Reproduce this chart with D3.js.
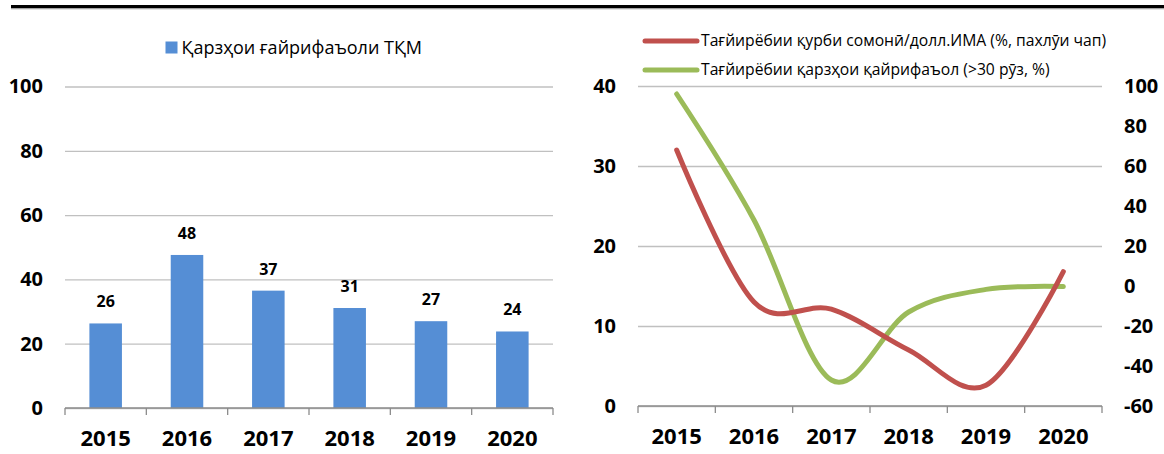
<!DOCTYPE html>
<html>
<head>
<meta charset="utf-8">
<script src="https://cdn.jsdelivr.net/npm/d3@7"></script>
<style>
  body { margin: 0; background: #fff; }
  svg { display: block; font-family: "Open Sans", "Noto Sans", sans-serif; }
  .tick text { fill: #000; }
</style>
</head>
<body>
<svg id="chart" width="1164" height="454"></svg>
<script>
// data
var years = ["2015", "2016", "2017", "2018", "2019", "2020"];
var npl = [26.3, 47.6, 36.5, 31.1, 27.0, 23.8];           // Қарзҳои ғайрифаъоли ТҚМ
var fxChange = [32.0, 13.0, 12.1, 7.0, 2.6, 16.8];       // left axis, %
var nplChange = [96, 33, -47, -13, -1.7, -0.3];           // right axis, %
var leftTicks = [0, 20, 40, 60, 80, 100];
var fxTicks = [0, 10, 20, 30, 40];
var nplTicks = [-60, -40, -20, 0, 20, 40, 60, 80, 100];
var barLegend = "Қарзҳои ғайрифаъоли ТҚМ";
var lineLegend = ["Тағйирёбии қурби сомонӣ/долл.ИМА (%, пахлӯи чап)",
                  "Тағйирёбии қарзҳои қайрифаъол (>30 рӯз, %)"];

var svg = d3.select("#chart");
var gridColor = "#c0c0c0", axisColor = "#8c8c8c";
var plain = function(d) { return String(d); };   // keep "-60" with a hyphen

// top rule
svg.append("rect").attr("x", 11).attr("y", 5).attr("width", 1153).attr("height", 3.5).attr("fill", "#000");
svg.append("rect").attr("x", 11).attr("y", 8.5).attr("width", 1153).attr("height", 1).attr("fill", "#c8c8c8");

function bottomAxis(g, x, y0) {
  g.append("line")
    .attr("x1", x.range()[0]).attr("x2", x.range()[1])
    .attr("y1", y0).attr("y2", y0)
    .attr("stroke", axisColor).attr("stroke-width", 1.3);
  var edges = years.map(function(d) { return x(d); }).concat([x.range()[1]]);
  g.selectAll(".edge").data(edges).enter().append("line")
    .attr("x1", function(d) { return d; }).attr("x2", function(d) { return d; })
    .attr("y1", y0).attr("y2", y0 + 7)
    .attr("stroke", axisColor).attr("stroke-width", 1.3);
  var ax = g.append("g").attr("transform", "translate(0," + y0 + ")")
    .call(d3.axisBottom(x).tickSize(0).tickPadding(22));
  ax.select(".domain").remove();
  ax.selectAll("text").attr("font-size", 22).attr("font-weight", 700)
    .attr("font-family", "'Open Sans', sans-serif");
}

// ---------- left chart: bars ----------
var xL = d3.scaleBand().domain(years).range([65, 553]);
var yL = d3.scaleLinear().domain([0, 100]).range([408, 86.5]);
var gL = svg.append("g");

var gridL = gL.append("g").attr("transform", "translate(65,0)")
  .call(d3.axisLeft(yL).tickValues(leftTicks).tickSize(-(553 - 65)).tickFormat(""));
gridL.select(".domain").remove();
gridL.selectAll("line").attr("stroke", gridColor).attr("stroke-width", 1.3);

var labL = gL.append("g").attr("transform", "translate(43,0)")
  .call(d3.axisLeft(yL).tickValues(leftTicks).tickSize(0).tickPadding(0).tickFormat(plain));
labL.select(".domain").remove();
labL.selectAll("text").attr("font-size", 20).attr("font-weight", 700)
  .attr("font-family", "'Open Sans', sans-serif");

var bw = xL.bandwidth() * 0.4;
gL.selectAll(".bar").data(npl).enter().append("rect")
  .attr("x", function(d, i) { return xL(years[i]) + (xL.bandwidth() - bw) / 2; })
  .attr("y", function(d) { return yL(d); })
  .attr("width", bw)
  .attr("height", function(d) { return yL(0) - yL(d); })
  .attr("fill", "#558ed5");

gL.selectAll(".val").data(npl).enter().append("text")
  .attr("x", function(d, i) { return xL(years[i]) + xL.bandwidth() / 2; })
  .attr("y", function(d) { return yL(d) - 16; })
  .attr("text-anchor", "middle").attr("font-size", 16).attr("font-weight", 700)
  .text(function(d) { return Math.round(d); });

bottomAxis(gL, xL, 408);

gL.append("rect").attr("x", 165.5).attr("y", 41.5).attr("width", 12).attr("height", 12).attr("fill", "#558ed5");
gL.append("text").attr("x", 181.5).attr("y", 47.5).attr("dy", "0.35em")
  .attr("font-size", 18).text(barLegend);

// ---------- right chart: lines ----------
var xR = d3.scaleBand().domain(years).range([638, 1102]);
var yR1 = d3.scaleLinear().domain([0, 40]).range([406, 86]);
var yR2 = d3.scaleLinear().domain([-60, 100]).range([406, 86]);
var gR = svg.append("g");

var gridR = gR.append("g").attr("transform", "translate(638,0)")
  .call(d3.axisLeft(yR1).tickValues(fxTicks).tickSize(-(1102 - 638)).tickFormat(""));
gridR.select(".domain").remove();
gridR.selectAll("line").attr("stroke", gridColor).attr("stroke-width", 1.3);

var labR1 = gR.append("g").attr("transform", "translate(616,0)")
  .call(d3.axisLeft(yR1).tickValues(fxTicks).tickSize(0).tickPadding(0).tickFormat(plain));
labR1.select(".domain").remove();
labR1.selectAll("text").attr("font-size", 20).attr("font-weight", 700)
  .attr("font-family", "'Open Sans', sans-serif");

var labR2 = gR.append("g").attr("transform", "translate(1124,0)")
  .call(d3.axisRight(yR2).tickValues(nplTicks).tickSize(0).tickPadding(0).tickFormat(plain));
labR2.select(".domain").remove();
labR2.selectAll("text").attr("font-size", 20).attr("font-weight", 700)
  .attr("font-family", "'Open Sans', sans-serif");

bottomAxis(gR, xR, 406);

var cx = function(i) { return xR(years[i]) + xR.bandwidth() / 2; };
var lineFx = d3.line().x(function(d, i) { return cx(i); }).y(function(d) { return yR1(d); })
  .curve(d3.curveCardinal.tension(0));
var lineNpl = d3.line().x(function(d, i) { return cx(i); }).y(function(d) { return yR2(d); })
  .curve(d3.curveCardinal.tension(0));

gR.append("path").datum(nplChange).attr("d", lineNpl)
  .attr("fill", "none").attr("stroke", "#9bbb59").attr("stroke-width", 5).attr("stroke-linecap", "round");
gR.append("path").datum(fxChange).attr("d", lineFx)
  .attr("fill", "none").attr("stroke", "#c0504d").attr("stroke-width", 5).attr("stroke-linecap", "round");

var legColors = ["#c0504d", "#9bbb59"];
var legY = [41, 70];
legColors.forEach(function(c, i) {
  gR.append("line").attr("x1", 645).attr("x2", 697).attr("y1", legY[i]).attr("y2", legY[i])
    .attr("stroke", c).attr("stroke-width", 5).attr("stroke-linecap", "round");
  gR.append("text").attr("x", 701).attr("y", legY[i]).attr("dy", "0.35em")
    .attr("font-size", 15.7).text(lineLegend[i]);
});
</script>
</body>
</html>
